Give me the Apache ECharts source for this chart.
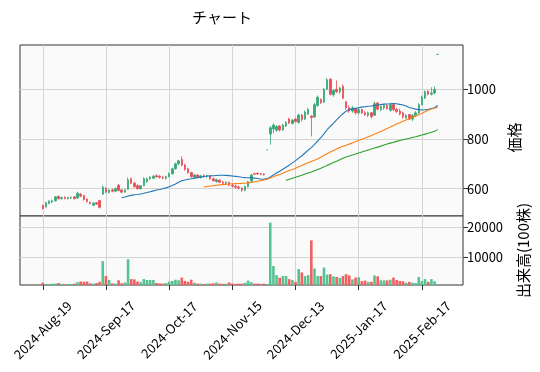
<!DOCTYPE html>
<html><head><meta charset="utf-8">
<script src="https://cdn.jsdelivr.net/npm/echarts@6/dist/echarts.min.js"></script>
<style>html,body{margin:0;padding:0;background:#fff}#c{width:540px;height:372px}</style>
</head><body><div id="c"></div>
<script>
// Trading days (TSE) shown in the chart
const tradingDays = {
  '2024-08': [19,20,21,22,23,26,27,28,29,30],
  '2024-09': [2,3,4,5,6,9,10,11,12,13,17,18,19,20,24,25,26,27,30],
  '2024-10': [1,2,3,4,7,8,9,10,11,15,16,17,18,21,22,23,24,25,28,29,30,31],
  '2024-11': [1,5,6,7,8,11,12,13,14,15,18,19,20,21,22,25,26,27,28,29],
  '2024-12': [2,3,4,5,6,9,10,11,12,13,16,17,18,19,20,23,24,25,26,27,30],
  '2025-01': [6,7,8,9,10,14,15,16,17,20,21,22,23,24,27,28,29,30,31],
  '2025-02': [3,4,5,6,7,10,12,13,14,17,18,19,20,21,25]
};
const tickIndex = [0,20,40,60,80,100,120];
const monthNames = ['Jan','Feb','Mar','Apr','May','Jun','Jul','Aug','Sep','Oct','Nov','Dec'];
const priceTicks = [600, 800, 1000];
const volumeTicks = [10000, 20000];

const openP = [532,527,541,546,551,569,560,565,560,564,567,562,578,572,558,545,533,543,552,578,
  600,585,595,590,614,595,586,598,640,622,612,600,612,628,640,642,652,650,646,642,
  648,660,680,700,718,695,680,665,646,655,646,652,650,652,640,628,634,626,622,625,
  614,610,606,602,594,608,630,660,662,660,659,756,820,840,835,852,836,852,880,862,
  880,866,896,880,900,892,888,935,960,948,1000,1040,978,1000,990,1012,950,926,912,922,
  905,918,905,895,905,895,945,918,925,935,915,938,918,912,905,885,898,880,895,905,
  938,965,992,980,985,1140];
const highP = [536,547,553,556,570,572,568,569,567,568,570,588,582,575,560,548,545,546,555,612,
  607,598,600,605,618,598,598,645,645,628,618,615,646,645,652,656,658,654,652,652,
  665,685,705,716,730,700,684,668,660,658,656,658,655,655,644,640,638,632,630,628,
  620,616,612,606,612,632,660,664,665,663,662,756,852,862,855,856,860,872,885,880,
  884,902,900,915,925,896,945,975,962,1005,1045,1045,1000,1035,1010,1020,952,935,932,925,
  925,922,912,910,908,950,948,935,940,940,945,942,925,922,910,900,900,900,912,945,
  975,995,996,1008,1012,1140];
const lowP = [515,524,537,542,548,556,555,557,556,558,556,560,566,552,544,536,530,535,520,575,
  583,580,585,586,590,582,584,596,618,604,596,596,610,624,634,638,644,640,638,636,
  646,656,676,694,690,672,660,644,640,642,640,645,644,636,628,624,622,618,615,610,
  604,600,598,588,590,605,628,655,656,654,652,756,777,822,828,830,832,848,860,858,
  866,862,870,876,896,810,885,930,940,945,996,975,970,985,982,960,918,905,905,898,
  898,900,892,888,882,892,915,912,918,918,910,912,905,895,882,880,876,872,890,900,
  935,960,975,975,980,1140];
const closeP = [520,543,550,551,567,560,564,560,564,566,560,582,570,556,548,540,542,538,525,606,
  586,594,590,600,593,586,595,636,622,608,600,612,640,640,646,650,648,646,643,648,
  660,680,700,712,695,678,665,648,655,645,652,648,652,640,632,636,626,622,626,614,
  610,606,602,594,608,628,655,658,659,657,656,756,845,856,850,836,856,866,864,876,
  870,896,878,908,918,886,938,968,946,1000,1038,980,995,990,1005,964,925,912,925,905,
  918,905,898,905,890,942,920,930,935,922,938,918,910,900,888,895,880,895,905,938,
  968,990,980,985,1000,1140];
const volume = [1600,1200,1200,1300,1300,1500,1200,1100,1200,1200,1300,1800,2000,1900,2000,1400,1300,1500,1900,8700,
  3800,2500,1400,1300,2400,1400,1700,9350,2800,2700,2000,1800,2800,2500,2500,2500,1500,1400,1300,1500,
  2000,2200,2600,2400,3300,2200,1900,2600,1600,1300,1300,1200,1300,1300,1400,1700,1300,1200,1300,1700,
  1300,1200,1300,1300,1600,2300,1800,1300,1300,1200,1300,1100,21400,7100,4100,3250,3800,3800,2800,2500,
  1900,6100,5000,3800,4100,15570,6300,3800,3800,6600,4300,4400,3700,3500,3200,3800,4400,4000,2700,3300,
  3400,2100,2300,1900,1900,4000,3700,2400,2400,2400,2600,3300,2500,2200,2100,1600,1900,1600,1500,3500,
  2200,2800,1900,2800,2100,1000];
const maWindows = [26, 52, 78];
const maColors = ['#1f77b4', '#ff7f0e', '#2ca02c'];

const dates = [];
Object.keys(tradingDays).forEach(m => tradingDays[m].forEach(d => dates.push(m + '-' + String(d).padStart(2,'0'))));
function fmtDate(s){ const p = s.split('-'); return p[0] + '-' + monthNames[+p[1]-1] + '-' + p[2]; }
function sma(arr, n){
  const out = [];
  for (let i = n - 1; i < arr.length; i++) {
    let s = 0; for (let k = i - n + 1; k <= i; k++) s += arr[k];
    out.push([i, s / n]);
  }
  return out;
}

const UP = '#33a874', DOWN = '#e94a53', VUP = '#55c492', VDOWN = '#f25f60';
const candleData = dates.map((d, i) => [i, openP[i], closeP[i], lowP[i], highP[i]]);
const volData = dates.map((d, i) => ({value: [i, volume[i]], itemStyle: {color: closeP[i] >= openP[i] ? VUP : VDOWN}}));

const FONT = '"Noto Sans CJK JP", "Noto Sans", sans-serif';
const X_MIN = -7.2, X_MAX = 133;
const gridCommon = {left: 20, right: 77, show: true, backgroundColor: '#fafafa', borderColor: '#333', borderWidth: 1};
const splitLine = {show: true, lineStyle: {color: '#d4d4d4', width: 1}};

const chart = echarts.init(document.getElementById('c'), null, {renderer: 'canvas'});
chart.setOption({
  animation: false,
  title: {text: 'チャート', left: 187, top: 5, textStyle: {fontFamily: FONT, fontSize: 15, fontWeight: 'normal', color: '#000'}},
  grid: [
    Object.assign({top: 45, height: 171}, gridCommon),
    Object.assign({top: 216, height: 69}, gridCommon)
  ],
  xAxis: [
    {type: 'value', gridIndex: 0, min: X_MIN, max: X_MAX, axisLine: {show: false, onZero: false},
     axisTick: {show: false, customValues: tickIndex}, axisLabel: {show: false, customValues: tickIndex}, splitLine: splitLine},
    {type: 'value', gridIndex: 1, min: X_MIN, max: X_MAX, axisLine: {show: false, onZero: false},
     axisTick: {show: true, length: 5, customValues: tickIndex, lineStyle: {color: '#333'}},
     axisLabel: {show: true, customValues: tickIndex, rotate: 45, align: 'center', verticalAlign: 'middle', margin: 45,
       fontFamily: FONT, fontSize: 13, color: '#000', formatter: v => fmtDate(dates[v])},
     splitLine: splitLine}
  ],
  yAxis: [
    {type: 'value', gridIndex: 0, position: 'right', min: 490, max: 1178, axisLine: {show: false, onZero: false},
     axisTick: {show: true, length: 5, customValues: priceTicks, lineStyle: {color: '#333'}},
     axisLabel: {customValues: priceTicks, margin: 4, fontFamily: FONT, fontSize: 13, color: '#000', formatter: v => String(v)},
     splitLine: splitLine,
     name: '価格', nameLocation: 'middle', nameRotate: 90, nameGap: 38,
     nameTextStyle: {fontFamily: FONT, fontSize: 15, color: '#000', padding: [0, 14, 0, 0]}},
    {type: 'value', gridIndex: 1, position: 'right', min: 850, max: 23600, axisLine: {show: false, onZero: false},
     axisTick: {show: true, length: 5, customValues: volumeTicks, lineStyle: {color: '#333'}},
     axisLabel: {customValues: volumeTicks, margin: 4, fontFamily: FONT, fontSize: 13, color: '#000', formatter: v => String(v)},
     splitLine: splitLine,
     name: '出来高(100株)', nameLocation: 'middle', nameRotate: 90, nameGap: 53,
     nameTextStyle: {fontFamily: FONT, fontSize: 15, color: '#000'}}
  ],
  series: [
    {type: 'candlestick', xAxisIndex: 0, yAxisIndex: 0, data: candleData, encode: {x: 0, y: [1,2,3,4]},
     barWidth: 2, itemStyle: {color: UP, color0: DOWN, borderColor: UP, borderColor0: DOWN, borderWidth: 0.8}},
    ...maWindows.map((w, k) => ({type: 'line', xAxisIndex: 0, yAxisIndex: 0, data: sma(closeP, w), showSymbol: false,
     lineStyle: {color: maColors[k], width: 1.1}, silent: true})),
    {type: 'bar', xAxisIndex: 1, yAxisIndex: 1, data: volData, barWidth: 2.6, clip: true}
  ]
});
</script></body></html>
